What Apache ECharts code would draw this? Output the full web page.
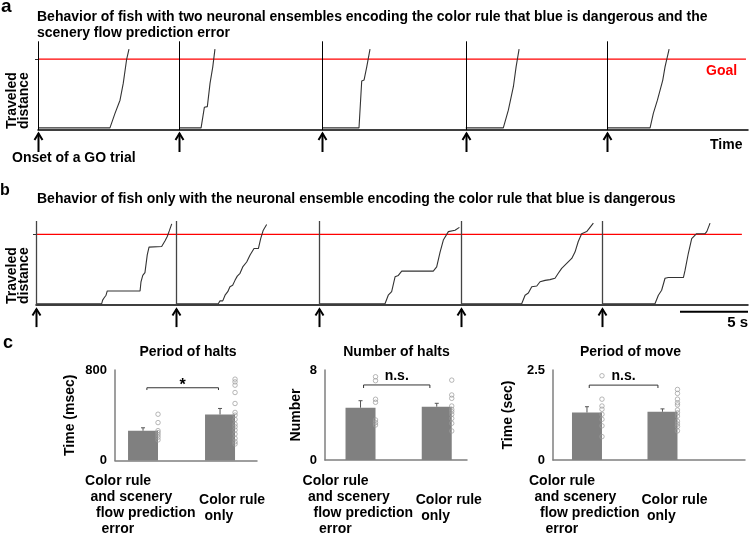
<!DOCTYPE html>
<html><head><meta charset="utf-8">
<script src="https://cdn.jsdelivr.net/npm/echarts@6/dist/echarts.min.js"></script>
<style>html,body{margin:0;padding:0;background:#fff}#c{width:750px;height:552px}</style>
</head><body><div id="c"></div>
<script>
const FONT = '"Liberation Sans", Arial, Helvetica, sans-serif';

// ---------- Panel a: traveled distance vs time (time in s, distance in arbitrary units, goal = 100)
const goalDistance = 100;
const onsetsA = [0, 10.39, 20.9, 31.45, 41.86];
const traceA1 = [[0,3],[5.29,3],[5.66,23.5],[5.79,24.4],[6.03,42],[6.27,66],[6.52,100],[6.69,114]];
const traceA2 = [[10.39,3],[11.99,3],[12.23,32],[12.45,33],[12.65,66],[12.85,89],[13.01,114]];
const traceA3 = [[20.9,3],[23.6,3],[23.8,69],[23.97,70.4],[24.17,89],[24.41,114]];
const traceA4 = [[31.45,3],[34.21,3],[34.58,28],[34.95,61],[35.15,89],[35.37,114]];
const traceA5 = [[41.86,3],[45.0,3],[45.24,23.5],[45.54,42],[45.93,70],[46.1,89],[46.4,114]];

// ---------- Panel b
const onsetsB = [0, 10.29, 20.83, 31.25, 41.64];
const traceB1 = [[0,2],[4.83,2],[4.9,7],[5.0,10],[5.15,14],[5.24,20],[7.65,20],[7.72,33],[7.85,42],[8.01,46],[8.18,71],[8.31,82],[9.24,83],[9.49,91],[9.65,97],[9.8,105],[9.98,115]];
const traceB2 = [[10.29,2],[13.4,2],[13.53,6],[13.73,6],[13.9,14],[14.1,19],[14.26,26],[14.46,28],[14.63,35],[14.8,41],[15.0,45],[15.2,54],[15.49,61],[15.74,71],[16.03,80],[16.35,80],[16.52,94],[16.71,106],[16.96,114]];
const traceB3 = [[20.83,2],[25.66,2],[25.9,14],[26.15,19],[26.4,40],[26.64,42],[26.89,48],[29.21,48],[29.46,54],[29.71,75],[29.95,92],[30.32,104],[30.81,106],[31.13,110]];
const traceB4 = [[31.25,2],[35.71,2],[35.96,14],[36.2,17],[36.45,26],[36.82,27],[37.06,33],[37.43,35],[37.79,36],[38.16,38],[38.4,45],[38.65,52],[39.02,59],[39.39,66],[39.63,75],[39.87,90],[40.12,101],[40.49,104],[40.98,116]];
const traceB5 = [[41.64,2],[45.51,2],[45.76,14],[46.0,21],[46.25,38],[46.49,39],[47.6,39],[47.72,49],[47.96,73],[48.21,94],[48.57,101],[49.19,101],[49.32,104],[49.56,116]];
const scaleBarSeconds = 5;

// ---------- Panel c
const categories = ['Color rule\nand scenery\nflow prediction\nerror', 'Color rule\nonly'];
const barTitles = ['Period of halts', 'Number of halts', 'Period of move'];
const barYNames = ['Time (msec)', 'Number', 'Time (sec)'];
const barYMax = [800, 8, 2.5];
const barMeans = [[263, 407], [4.65, 4.74], [1.32, 1.34]];
const barErrors = [[26, 53], [0.62, 0.30], [0.16, 0.08]];
const dotsHaltPeriod = [[409,335,264,247,227,206,182], [719,695,666,601,504,425,401,363,322,298,269,234,196,166,146]];
const dotsHaltNumber = [[7.4,7.05,5.4,5.13,3.56,3.32,3.11], [7.1,5.78,5.48,4.8,4.5,4.3,4.06,3.7,3.26,2.58]];
const dotsMovePeriod = [[2.34,1.69,1.5,1.41,1.27,1.13,0.95,0.65], [1.96,1.85,1.69,1.59,1.53,1.39,1.31,1.22,1.08,1.0,0.93,0.81]];
const sigLabels = ['*', 'n.s.', 'n.s.'];
const sigBrackets = [[1.05, 1.98, 643, 623], [1.04, 1.91, 6.67, 6.4], [1.03, 1.94, 2.08, 2.0]];

// ---------- layout helpers
const xMaxA = 52.2, yRangeA = [-30, 125];
const xMaxB = 52.35, yRangeB = [-31, 119];
const barXRange = [[0.636, 2.48], [0.534, 2.397], [0.55, 3.093]];
const allDots = [dotsHaltPeriod, dotsHaltNumber, dotsMovePeriod];
// stepped layout of the category label lines, relative to bar centre / axis
const CAT_FONT = 'bold 14px ' + FONT;
const catLayout = [{dx: -58, dy: 21}, {dx: -21, dy: 40}];
const CAT_STEP_X = 5.5, CAT_STEP_Y = 16;

const chart = echarts.init(document.getElementById('c'), null, {renderer: 'canvas'});

function onsetRenderer(yTop, lineColor, lineWidth, gap) {
  return function (params, api) {
    const base = api.coord([api.value(0), 0]);
    const top = api.coord([api.value(0), yTop]);
    const x = Math.round(base[0]) + 0.5, y = base[1];
    return {type: 'group', children: [
      {type: 'line', shape: {x1: x, y1: y, x2: x, y2: top[1]}, style: {stroke: lineColor, lineWidth: lineWidth}},
      {type: 'line', shape: {x1: x, y1: y + gap, x2: x, y2: y + 22}, style: {stroke: '#000', lineWidth: 2}},
      {type: 'polyline', shape: {points: [[x - 4, y + gap + 6.5], [x, y + gap], [x + 4, y + gap + 6.5]]}, style: {stroke: '#000', lineWidth: 2, fill: 'none'}}
    ]};
  };
}

const grids = [
  {left: 38, top: 41.3, width: 710, height: 110},
  {left: 36, top: 221, width: 712, height: 106},
  {left: 115, top: 370, width: 142, height: 90.5},
  {left: 325, top: 370, width: 142, height: 90},
  {left: 553, top: 370, width: 192, height: 90}
].map(g => Object.assign({outerBoundsMode: 'none', containLabel: false}, g));

const xAxes = [
  {gridIndex: 0, type: 'value', min: 0, max: xMaxA, axisLine: {onZero: true, lineStyle: {color: '#000', width: 1.5}}, axisTick: {show: false}, axisLabel: {show: false}, splitLine: {show: false}},
  {gridIndex: 1, type: 'value', min: 0, max: xMaxB, axisLine: {onZero: true, lineStyle: {color: '#000', width: 1.5}}, axisTick: {show: false}, axisLabel: {show: false}, splitLine: {show: false}}
];
const yAxes = [
  {gridIndex: 0, type: 'value', min: yRangeA[0], max: yRangeA[1], axisLine: {show: false}, axisTick: {show: true, length: 3, customValues: [goalDistance], lineStyle: {color: '#333'}}, axisLabel: {show: false}, splitLine: {show: false}},
  {gridIndex: 1, type: 'value', min: yRangeB[0], max: yRangeB[1], axisLine: {show: false}, axisTick: {show: true, length: 3, customValues: [goalDistance], lineStyle: {color: '#333'}}, axisLabel: {show: false}, splitLine: {show: false}}
];

const series = [];
// goal lines
series.push({type: 'line', xAxisIndex: 0, yAxisIndex: 0, data: [[0, goalDistance], [xMaxA - 0.15, goalDistance]], showSymbol: false, symbol: 'none', lineStyle: {color: '#ff0000', width: 1.2}, z: 2});
series.push({type: 'line', xAxisIndex: 1, yAxisIndex: 1, data: [[0, goalDistance], [xMaxB - 0.45, goalDistance]], showSymbol: false, symbol: 'none', lineStyle: {color: '#ff0000', width: 1.2}, z: 2});
[traceA1, traceA2, traceA3, traceA4, traceA5].forEach(tr => {
  series.push({type: 'line', xAxisIndex: 0, yAxisIndex: 0, data: tr, showSymbol: false, symbol: 'none', lineStyle: {color: '#333', width: 1.1}, z: 3});
});
[traceB1, traceB2, traceB3, traceB4, traceB5].forEach(tr => {
  series.push({type: 'line', xAxisIndex: 1, yAxisIndex: 1, data: tr, showSymbol: false, symbol: 'none', lineStyle: {color: '#333', width: 1.1}, z: 3});
});
series.push({type: 'custom', xAxisIndex: 0, yAxisIndex: 0, data: onsetsA.map(t => [t, 0]), renderItem: onsetRenderer(yRangeA[1], '#000', 1, 3.5), z: 4});
series.push({type: 'custom', xAxisIndex: 1, yAxisIndex: 1, data: onsetsB.map(t => [t, 0]), renderItem: onsetRenderer(yRangeB[1], '#444', 1.3, 4), z: 4});
// scale bar
series.push({type: 'line', xAxisIndex: 1, yAxisIndex: 1, data: [[xMaxB - scaleBarSeconds, -9.5], [xMaxB, -9.5]], showSymbol: false, symbol: 'none', lineStyle: {color: '#000', width: 2}});

// bar charts
for (let k = 0; k < 3; k++) {
  const xi = xAxes.length, yi = yAxes.length;
  xAxes.push({gridIndex: 2 + k, type: 'value', min: barXRange[k][0], max: barXRange[k][1],
    axisLine: {onZero: false, lineStyle: {color: '#7f7f7f', width: 1.5}}, axisTick: {show: false}, splitLine: {show: false}, axisLabel: {show: false}});
  yAxes.push({gridIndex: 2 + k, type: 'value', min: 0, max: barYMax[k], interval: barYMax[k],
    axisLine: {show: true, lineStyle: {color: '#7f7f7f', width: 1.5}}, axisTick: {show: false}, splitLine: {show: false},
    axisLabel: {margin: 8, fontWeight: 'bold', fontSize: 13, fontFamily: FONT, color: '#000'},
    name: barYNames[k], nameLocation: 'middle', nameRotate: 90, nameGap: [38, 22, 38][k],
    nameTextStyle: {fontWeight: 'bold', fontSize: 14, fontFamily: FONT, color: '#000'}
  });
  series.push({type: 'bar', xAxisIndex: xi, yAxisIndex: yi, data: barMeans[k].map((v, j) => [j + 1, v]), barWidth: 30, itemStyle: {color: '#808080'}, z: 2});
  series.push({type: 'custom', xAxisIndex: xi, yAxisIndex: yi, z: 3,
    data: barMeans[k].map((v, j) => [j + 1, v, barErrors[k][j]]),
    renderItem: function (params, api) {
      const p1 = api.coord([api.value(0), api.value(1)]);
      const p2 = api.coord([api.value(0), api.value(1) + api.value(2)]);
      return {type: 'group', children: [
        {type: 'line', shape: {x1: p1[0], y1: p1[1], x2: p2[0], y2: p2[1]}, style: {stroke: '#555', lineWidth: 1}},
        {type: 'line', shape: {x1: p2[0] - 2, y1: p2[1], x2: p2[0] + 2, y2: p2[1]}, style: {stroke: '#555', lineWidth: 1}}
      ]};
    }});
  const dots = [];
  allDots[k].forEach((g, j) => g.forEach(v => dots.push([j + 1, v])));
  series.push({type: 'scatter', xAxisIndex: xi, yAxisIndex: yi, data: dots, symbol: 'circle', symbolSize: 4.5, symbolOffset: [15, 0],
    itemStyle: {color: 'rgba(255,255,255,0)', borderColor: '#9a9a9a', borderWidth: 0.9}, z: 4});
  series.push({type: 'custom', xAxisIndex: xi, yAxisIndex: yi, z: 5,
    data: [sigBrackets[k]],
    renderItem: (function (label) { return function (params, api) {
      const x1 = api.value(0), x2 = api.value(1), y = api.value(2), yEnd = api.value(3);
      const a = api.coord([x1, yEnd]), b = api.coord([x1, y]), c = api.coord([x2, y]), d = api.coord([x2, yEnd]);
      const star = label === '*';
      return {type: 'group', children: [
        {type: 'polyline', shape: {points: [a, b, c, d]}, style: {stroke: '#333', lineWidth: 1, fill: 'none'}},
        {type: 'text', x: (b[0] + c[0]) / 2, y: b[1] - 2,
          style: {text: label, font: 'bold ' + (star ? 16 : 14) + 'px ' + FONT, fill: '#000', align: 'center', verticalAlign: star ? 'middle' : 'bottom'}}
      ]};
    }; })(sigLabels[k])});
  // category labels: one text per line, stepped like the slanted labels of the original
  series.push({type: 'custom', xAxisIndex: xi, yAxisIndex: yi, z: 5, clip: false,
    data: categories.map((c, j) => [j + 1, 0]),
    renderItem: function (params, api) {
      const i = api.value(0) - 1;
      const p = api.coord([api.value(0), 0]);
      const lay = catLayout[i];
      return {type: 'group', children: categories[i].split('\n').map((line, n) => ({
        type: 'text', x: p[0] + lay.dx + n * CAT_STEP_X, y: p[1] + lay.dy + n * CAT_STEP_Y, silent: true,
        style: {text: line, font: CAT_FONT, fill: '#000', align: 'left', verticalAlign: 'middle'}
      }))};
    }});
}

function txt(text, x, y, opts) {
  opts = opts || {};
  return {type: 'text', x: x, y: y, rotation: opts.rotation || 0, silent: true,
    style: {text: text, font: 'bold ' + (opts.size || 14) + 'px ' + FONT, fill: opts.color || '#000',
      align: opts.align || 'left', verticalAlign: opts.va || 'middle', lineHeight: opts.lh}};
}

chart.setOption({
  animation: false,
  backgroundColor: '#fff',
  textStyle: {fontFamily: FONT},
  grid: grids,
  xAxis: xAxes,
  yAxis: yAxes,
  series: series,
  graphic: [
    txt('a', 1, 6.5, {size: 19}),
    txt('Behavior of fish with two neuronal ensembles encoding the color rule that blue is dangerous and the\nscenery flow prediction error', 37, 25, {size: 14, lh: 15.5}),
    txt('Goal', 706, 71.5, {color: '#ff0000'}),
    txt('Time', 710, 145),
    txt('Onset of a GO trial', 12, 158.5),
    txt('Traveled\ndistance', 6, 129, {rotation: Math.PI / 2, va: 'top', lh: 12}),
    txt('b', 0, 191, {size: 16}),
    txt('Behavior of fish only with the neuronal ensemble encoding the color rule that blue is dangerous', 37, 199, {size: 14}),
    txt('Traveled\ndistance', 6, 304, {rotation: Math.PI / 2, va: 'top', lh: 12}),
    txt('5 s', 748, 323, {align: 'right', size: 15}),
    txt('c', 3, 343.5, {size: 18}),
    txt(barTitles[0], 188, 352.5, {align: 'center'}),
    txt(barTitles[1], 396.5, 352.5, {align: 'center'}),
    txt(barTitles[2], 630.5, 352.5, {align: 'center'})
  ]
});
</script>
</body></html>
